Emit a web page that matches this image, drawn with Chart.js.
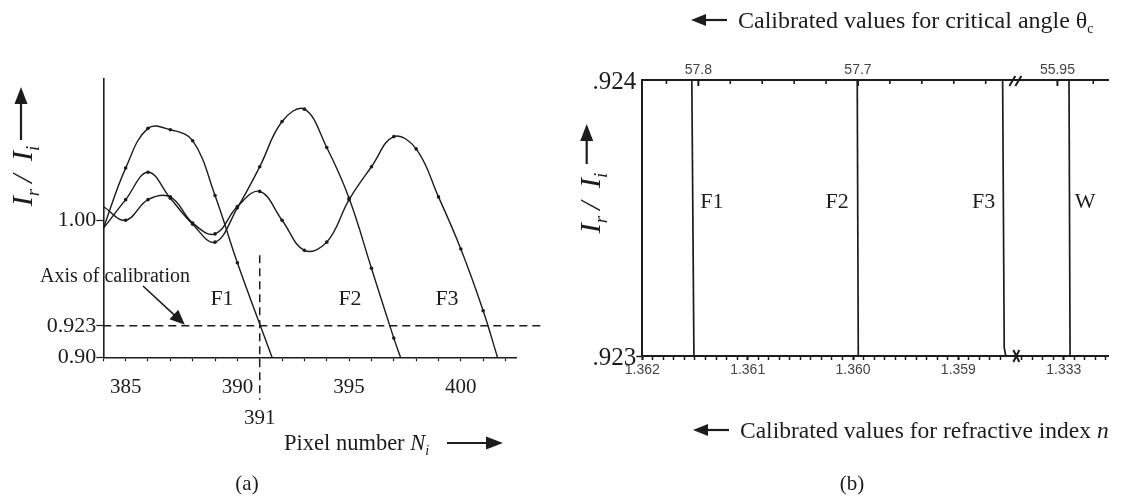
<!DOCTYPE html>
<html>
<head>
<meta charset="utf-8">
<script src="https://cdn.jsdelivr.net/npm/chart.js@4.4.1/dist/chart.umd.min.js"></script>
<style>
  html, body { margin: 0; padding: 0; background: #fff; }
  #wrap { position: relative; width: 1133px; height: 496px; overflow: hidden; }
  #boxA { position: absolute; left: 0; top: 0; width: 560px; height: 496px; }
  #boxB { position: absolute; left: 560px; top: 0; width: 573px; height: 496px; }
</style>
</head>
<body>
<div id="wrap">
  <div id="boxA"><canvas id="chartA" width="560" height="496"></canvas></div>
  <div id="boxB"><canvas id="chartB" width="573" height="496"></canvas></div>
</div>
<script>
// ---- panel (a): Ir/Ii against pixel number ----
const pixelF1 = [384, 385, 386, 387, 388, 389, 390, 391.55];
const ratioF1 = [0.994, 1.038, 1.067, 1.066, 1.058, 1.018, 0.969, 0.900];
const pixelF2 = [384, 385, 386, 387, 388, 389, 390, 391, 392, 393, 394, 395, 396, 397, 397.3];
const ratioF2 = [0.994, 1.015, 1.035, 1.016, 0.997, 0.984, 1.009, 1.039, 1.072, 1.081, 1.053, 1.016, 0.965, 0.914, 0.900];
const pixelF3 = [384, 385, 386, 387, 388, 389, 390, 391, 392, 393, 394, 395, 396, 397, 398, 399, 400, 401, 401.64];
const ratioF3 = [1.010, 1.000, 1.015, 1.017, 0.998, 0.990, 1.010, 1.021, 1.000, 0.978, 0.984, 1.015, 1.039, 1.061, 1.052, 1.017, 0.979, 0.934, 0.900];

const pixelTicks = [384, 385, 386, 387, 388, 389, 390, 391, 392, 393, 394, 395, 396, 397, 398, 399, 400, 401, 402];
const pixelTickLabels = [385, 390, 395, 400];
const ratioTicks = [0.90, 0.923, 1.00];
const ratioTickLabels = ['0.90', '0.923', '1.00'];

const calibRatio = 0.923;
const calibPixel = 391;

// ---- panel (b): calibrated lines ----
const filmNames = ['F1', 'F2', 'F3', 'W'];
const indexF1 = [1.36153, 1.36151];
const ratioLineF1 = [0.924, 0.923];
const indexF2 = [1.35996, 1.35995];
const ratioLineF2 = [0.924, 0.923];
const indexF3 = [1.35858, 1.358565, 1.35855];
const ratioLineF3 = [0.924, 0.92303, 0.923];
const indexW = [1.33295, 1.33294];
const ratioLineW = [0.924, 0.923];

const indexTickLabels = ['1.362', '1.361', '1.360', '1.359', '1.333'];
const thetaTicks = [57.82, 57.80, 57.78, 57.76, 57.74, 57.72, 57.70, 57.68, 57.66, 57.64, 57.62, 55.95, 55.93];
const thetaTickLabels = [57.8, 57.7, 55.95];

const ink = '#1c1c1c';
const serif = '"Liberation Serif", "Times New Roman", serif';
const sans = '"Liberation Sans", Arial, sans-serif';

// broken axis: left part 1.362..1.3585, right part around 1.333
function indexToAxis(n) {
  return n > 1.35 ? (1.362 - n) * 1e4 : 40 + (1.333 - n) * 1e4;
}
function thetaToAxis(t) {
  return t > 57 ? 5.32 + (57.8 - t) * 151.5 : 39.4 + (55.95 - t) * 170;
}
const breakAxis = 35.5;

function runsWidth(ctx, runs) {
  let w = 0;
  for (const r of runs) { ctx.font = r.font; w += ctx.measureText(r.text).width; }
  return w;
}
function drawRuns(ctx, runs, x, y, align) {
  let cx = x;
  if (align === 'center') cx = x - runsWidth(ctx, runs) / 2;
  if (align === 'right') cx = x - runsWidth(ctx, runs);
  ctx.textAlign = 'left';
  ctx.textBaseline = 'alphabetic';
  for (const r of runs) {
    ctx.font = r.font;
    ctx.fillText(r.text, cx, y + (r.dy || 0));
    cx += ctx.measureText(r.text).width;
  }
}
function drawArrow(ctx, x1, y1, x2, y2, head, half) {
  const a = Math.atan2(y2 - y1, x2 - x1);
  const c = Math.cos(a), s = Math.sin(a);
  ctx.beginPath();
  ctx.moveTo(x1, y1);
  ctx.lineTo(x2 - c * head * 0.8, y2 - s * head * 0.8);
  ctx.stroke();
  ctx.beginPath();
  ctx.moveTo(x2, y2);
  ctx.lineTo(x2 - c * head + s * half, y2 - s * head - c * half);
  ctx.lineTo(x2 - c * head - s * half, y2 - s * head + c * half);
  ctx.closePath();
  ctx.fill();
}
function ratioTitle(size) {
  const it = 'italic ' + size + 'px ' + serif;
  const sub = 'italic ' + Math.round(size * 0.62) + 'px ' + serif;
  return [
    { text: 'I', font: it }, { text: 'r', font: sub, dy: size * 0.22 },
    { text: '\u2009/\u2009 ', font: it },
    { text: 'I', font: it }, { text: 'i', font: sub, dy: size * 0.22 }
  ];
}
function plain(text, size) { return { text: text, font: size + 'px ' + serif }; }

function curve(label, xs, ys) {
  return {
    label: label,
    data: xs.map((v, i) => ({ x: v, y: ys[i] })),
    borderColor: ink,
    backgroundColor: ink,
    borderWidth: 1.4,
    tension: 0.4,
    pointRadius: xs.map((v, i) => (i === 0 || i === xs.length - 1) ? 0 : 1.8),
    pointBorderWidth: 0,
    clip: false
  };
}

const annotA = {
  id: 'annotA',
  afterDraw(chart) {
    const { ctx, scales: { x, y } } = chart;
    ctx.save();
    ctx.fillStyle = ink;
    ctx.strokeStyle = ink;
    ctx.lineWidth = 1.6;

    drawRuns(ctx, [plain('F1', 22)], 222, 305, 'center');
    drawRuns(ctx, [plain('F2', 22)], 350, 305, 'center');
    drawRuns(ctx, [plain('F3', 22)], 447, 305, 'center');

    drawRuns(ctx, [plain(String(calibPixel), 21)], x.getPixelForValue(calibPixel), 424, 'center');

    drawRuns(ctx, [plain('Axis of calibration', 20)], 40, 282, 'left');
    drawArrow(ctx, 143, 286, x.getPixelForValue(387.65), y.getPixelForValue(calibRatio) - 1, 15, 6.5);

    drawRuns(ctx, [plain('Pixel number ', 22.5), { text: 'N', font: 'italic 22.5px ' + serif },
      { text: 'i', font: 'italic 14px ' + serif, dy: 5 }], 284, 450, 'left');
    ctx.lineWidth = 2.2;
    drawArrow(ctx, 447, 443, 503, 443, 17, 6.5);

    drawRuns(ctx, [plain('(a)', 21)], 247, 490, 'center');

    ctx.save();
    ctx.translate(22, 176);
    ctx.rotate(-Math.PI / 2);
    drawRuns(ctx, ratioTitle(30), 0, 10, 'center');
    ctx.restore();
    drawArrow(ctx, 21, 140, 21, 87, 17, 6.5);
    ctx.restore();
  }
};

new Chart(document.getElementById('chartA'), {
  type: 'line',
  data: {
    datasets: [
      curve('F1', pixelF1, ratioF1),
      curve('F2', pixelF2, ratioF2),
      curve('F3', pixelF3, ratioF3),
      {
        label: 'axis of calibration',
        data: [{ x: 384, y: calibRatio }, { x: 403.6, y: calibRatio }],
        borderColor: ink, borderWidth: 1.5, borderDash: [8, 5], pointRadius: 0, clip: false
      },
      {
        label: 'pixel 391',
        data: [{ x: calibPixel, y: 0.9745 }, { x: calibPixel, y: 0.869 }],
        borderColor: ink, borderWidth: 1.5, borderDash: [8, 5], pointRadius: 0, clip: false
      }
    ]
  },
  options: {
    responsive: false,
    animation: false,
    layout: { padding: { left: 0, top: 79, right: 43.3, bottom: 0 } },
    plugins: { legend: { display: false }, tooltip: { enabled: false } },
    scales: {
      x: {
        type: 'linear', min: 384, max: 402.5,
        afterBuildTicks: s => { s.ticks = pixelTicks.map(v => ({ value: v })); },
        afterFit: s => { s.height = 496 - 357.3; },
        border: { display: true, color: ink, width: 1.6 },
        grid: { drawOnChartArea: false, tickLength: 4, tickColor: ink, tickWidth: 1.2 },
        ticks: {
          autoSkip: false, maxRotation: 0, padding: 14, color: ink,
          font: { family: serif, size: 21 },
          callback: v => pixelTickLabels.includes(v) ? String(v) : ''
        }
      },
      y: {
        type: 'linear', min: 0.9, max: 1.103,
        afterBuildTicks: s => { s.ticks = ratioTicks.map(v => ({ value: v })); },
        afterFit: s => { s.width = 103.3; },
        border: { display: true, color: ink, width: 1.6 },
        grid: { drawOnChartArea: false, tickLength: 7, tickColor: ink, tickWidth: 1.2 },
        ticks: {
          padding: 0, color: ink,
          font: { family: serif, size: 22 },
          callback: (v, i) => ratioTickLabels[i]
        }
      }
    }
  },
  plugins: [annotA]
});

// ---- panel (b) ----
function filmLine(label, ns, rs) {
  return {
    label: label,
    data: ns.map((n, i) => ({ x: indexToAxis(n), y: rs[i] })),
    borderColor: ink, borderWidth: 1.7, pointRadius: 0, tension: 0, clip: false
  };
}
const indexTickValues = indexTickLabels.map(Number);
const indexTickAxis = [];
for (let u = 0; u <= 44; u++) { if (u !== 35) indexTickAxis.push(u); }

const annotB = {
  id: 'annotB',
  afterDraw(chart) {
    const { ctx, chartArea, scales: { x, xTop, y } } = chart;
    ctx.save();
    ctx.fillStyle = ink;
    ctx.strokeStyle = ink;

    // inward ticks on the critical-angle axis
    thetaTicks.forEach(t => {
      const px = xTop.getPixelForValue(thetaToAxis(t));
      const major = thetaTickLabels.includes(t);
      ctx.lineWidth = major ? 2 : 1.6;
      ctx.beginPath();
      ctx.moveTo(px, chartArea.top);
      ctx.lineTo(px, chartArea.top + (major ? 6 : 4));
      ctx.stroke();
    });

    // break marks
    const bx = x.getPixelForValue(breakAxis);
    ctx.lineWidth = 2;
    ctx.beginPath();
    ctx.moveTo(bx - 7, chartArea.top + 6); ctx.lineTo(bx - 1, chartArea.top - 4);
    ctx.moveTo(bx - 1, chartArea.top + 6); ctx.lineTo(bx + 5, chartArea.top - 4);
    ctx.stroke();
    ctx.beginPath();
    ctx.moveTo(bx - 3, chartArea.bottom - 6); ctx.lineTo(bx + 3, chartArea.bottom + 6);
    ctx.moveTo(bx + 3, chartArea.bottom - 6); ctx.lineTo(bx - 3, chartArea.bottom + 6);
    ctx.stroke();

    // film labels
    const labelOffsets = [20, -20, -19, 16];
    const filmIndex = [indexF1[0], indexF2[0], indexF3[0], indexW[0]];
    filmNames.forEach((name, i) => {
      const px = x.getPixelForValue(indexToAxis(filmIndex[i])) + labelOffsets[i];
      drawRuns(ctx, [plain(name, 22)], px, 208, 'center');
    });

    // axis titles and captions (canvas is offset by 560px)
    ctx.save();
    ctx.translate(590 - 560, 203);
    ctx.rotate(-Math.PI / 2);
    drawRuns(ctx, ratioTitle(30), 0, 10, 'center');
    ctx.restore();
    ctx.lineWidth = 2.2;
    drawArrow(ctx, 586.7 - 560, 164, 586.7 - 560, 124, 17, 6.5);

    drawArrow(ctx, 727 - 560, 20, 691 - 560, 20, 15, 6);
    drawRuns(ctx, [plain('Calibrated values for critical angle ', 24), { text: '\u03b8', font: '24px ' + serif },
      { text: 'c', font: '14px ' + serif, dy: 5 }], 738 - 560, 28, 'left');

    drawArrow(ctx, 729 - 560, 430, 693 - 560, 430, 15, 6);
    drawRuns(ctx, [plain('Calibrated values for refractive index ', 23.5), { text: 'n', font: 'italic 23.5px ' + serif }],
      740 - 560, 438, 'left');

    drawRuns(ctx, [plain('(b)', 21)], 852 - 560, 490, 'center');
    ctx.restore();
  }
};

new Chart(document.getElementById('chartB'), {
  type: 'line',
  data: {
    datasets: [
      filmLine('F1', indexF1, ratioLineF1),
      filmLine('F2', indexF2, ratioLineF2),
      filmLine('F3', indexF3, ratioLineF3),
      filmLine('W', indexW, ratioLineW)
    ]
  },
  options: {
    responsive: false,
    animation: false,
    layout: { padding: { left: 0, top: 0, right: 25, bottom: 0 } },
    plugins: { legend: { display: false }, tooltip: { enabled: false } },
    scales: {
      x: {
        type: 'linear', position: 'bottom', min: 0, max: 44.2,
        afterBuildTicks: s => { s.ticks = indexTickAxis.map(v => ({ value: v })); },
        afterFit: s => { s.height = 140; },
        border: { display: true, color: ink, width: 2 },
        grid: {
          drawOnChartArea: false, tickLength: 4, tickColor: ink,
          tickWidth: c => (c.tick && indexTickValues.map(indexToAxis).some(u => Math.abs(u - c.tick.value) < 0.01)) ? 2.2 : 1.5
        },
        ticks: {
          autoSkip: false, maxRotation: 0, padding: 2, color: '#444',
          font: { family: sans, size: 14 },
          callback: v => {
            const k = indexTickValues.findIndex(n => Math.abs(indexToAxis(n) - v) < 0.01);
            return k >= 0 ? indexTickLabels[k] : '';
          }
        }
      },
      xTop: {
        type: 'linear', position: 'top', min: 0, max: 44.2,
        afterBuildTicks: s => { s.ticks = thetaTicks.map(t => ({ value: thetaToAxis(t) })); },
        afterFit: s => { s.height = 80; },
        border: { display: true, color: ink, width: 2 },
        grid: { drawOnChartArea: false, drawTicks: false },
        ticks: {
          autoSkip: false, maxRotation: 0, padding: 1, color: '#444',
          font: { family: sans, size: 14 },
          callback: (v, i) => thetaTickLabels.includes(thetaTicks[i]) ? String(thetaTicks[i]) : ''
        }
      },
      y: {
        type: 'linear', min: 0.923, max: 0.924,
        afterBuildTicks: s => { s.ticks = [{ value: 0.923 }, { value: 0.924 }]; },
        afterFit: s => { s.width = 82.3; },
        border: { display: true, color: ink, width: 2 },
        grid: {
          drawOnChartArea: false, tickLength: 6, tickWidth: 1.5,
          tickColor: c => (c.tick && c.tick.value === 0.924) ? 'rgba(0,0,0,0)' : ink
        },
        ticks: {
          padding: 0, color: ink, labelOffset: 2,
          font: { family: serif, size: 25 },
          callback: v => v === 0.923 ? '.923' : '.924'
        }
      }
    }
  },
  plugins: [annotB]
});
</script>
</body>
</html>
